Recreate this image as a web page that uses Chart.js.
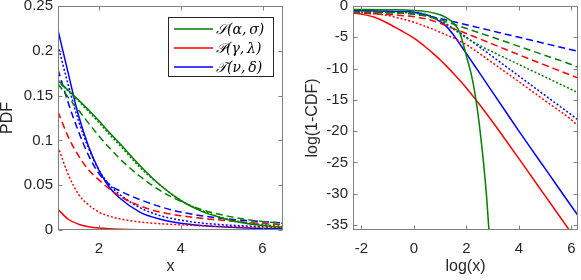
<!DOCTYPE html>
<html>
<head>
<meta charset="utf-8">
<script src="https://cdn.jsdelivr.net/npm/chart.js@4.4.1/dist/chart.umd.min.js"></script>
<style>
  html, body { margin:0; padding:0; background:#fff; }
  #wrap { position:relative; width:581px; height:280px; }
  canvas { position:absolute; top:0; }
  #pdfChart { left:0; }
  #tailChart { left:290px; }
</style>
</head>
<body>
<div id="wrap">
  <canvas id="pdfChart" width="290" height="280"></canvas>
  <canvas id="tailChart" width="291" height="280"></canvas>
</div>
<script>
// ---- left panel: PDF on 1..6.5 ----
const pdfX   = [1, 1.25, 1.5, 1.75, 2, 2.25, 2.5, 3, 3.5, 4, 4.5, 5, 5.5, 6, 6.5];
const pdfS1  = [0.167, 0.156, 0.145, 0.134, 0.122, 0.109, 0.097, 0.072, 0.050, 0.033, 0.021, 0.0135, 0.008, 0.005, 0.003];
const pdfS2  = [0.163, 0.148, 0.134, 0.119, 0.105, 0.092, 0.080, 0.060, 0.044, 0.032, 0.023, 0.017, 0.0125, 0.0095, 0.0075];
const pdfS3  = [0.166, 0.155, 0.144, 0.132, 0.120, 0.107, 0.095, 0.070, 0.050, 0.033, 0.022, 0.014, 0.009, 0.006, 0.004];
const pdfP1  = [0.023, 0.012, 0.0065, 0.0037, 0.0022, 0.0014, 0.0009, 0.0004, 0.0002, 0.0001, 0.00005, 0, 0, 0, 0];
const pdfP2  = [0.132, 0.104, 0.083, 0.067, 0.056, 0.046, 0.038, 0.027, 0.020, 0.016, 0.013, 0.011, 0.0088, 0.0072, 0.006];
const pdfP3  = [0.093, 0.062, 0.040, 0.028, 0.020, 0.0155, 0.0125, 0.009, 0.007, 0.0058, 0.0048, 0.004, 0.0035, 0.003, 0.0027];
const pdfT1  = [0.223, 0.175, 0.128, 0.093, 0.067, 0.048, 0.036, 0.020, 0.012, 0.0075, 0.005, 0.0035, 0.0025, 0.0018, 0.0014];
const pdfT2  = [0.179, 0.142, 0.110, 0.083, 0.063, 0.051, 0.044, 0.034, 0.026, 0.020, 0.016, 0.013, 0.011, 0.0093, 0.008];
const pdfT3  = [0.206, 0.162, 0.122, 0.091, 0.067, 0.051, 0.040, 0.025, 0.016, 0.011, 0.0078, 0.006, 0.0047, 0.0038, 0.0031];

// ---- right panel: log(1-CDF) vs log(x) ----
const tailX  = [-2.32, -2, -1.5, -1, -0.5, 0, 0.5, 0.75, 1, 1.25, 1.5, 2, 2.5, 3, 3.5, 4, 5, 6, 6.25];
const tailGX = [-2.32, -1, 0, 0.5, 1, 1.25, 1.5, 1.75, 2, 2.25, 2.5, 2.75, 2.9];
const tailS1 = [-0.55, -0.6, -0.7, -0.9, -1.4, -1.9, -2.7, -4.3, -8.0, -12.2, -19.2, -29.5, -38.5];
const tailS2 = [-0.9, -0.95, -1.0, -1.07, -1.15, -1.3, -1.65, -1.9, -2.2, -2.55, -2.9, -3.6, -4.3, -5.0, -5.72, -6.45, -7.9, -9.35, -9.8];
const tailS3 = [-0.9, -0.92, -0.95, -1.0, -1.05, -1.15, -1.45, -1.85, -2.35, -3.0, -3.7, -5.1, -6.3, -7.35, -8.35, -9.35, -11.35, -13.35, -13.85];
const tailP1 = [-1.1, -1.3, -1.8, -2.75, -3.9, -5.15, -6.75, -7.65, -8.6, -9.65, -10.75, -13.1, -15.75, -18.55, -21.45, -24.4, -30.35, -36.3, -37.8];
const tailP2 = [-1.1, -1.15, -1.25, -1.35, -1.5, -1.7, -2.1, -2.4, -2.75, -3.15, -3.6, -4.4, -5.25, -6.1, -6.95, -7.8, -9.45, -11.1, -11.5];
const tailP3 = [-1.0, -1.1, -1.25, -1.5, -2.0, -2.6, -3.35, -3.75, -4.2, -4.65, -5.1, -6.2, -7.6, -9.1, -10.6, -12.1, -15.15, -18.2, -19.2];
const tailT1 = [-0.75, -0.76, -0.78, -0.82, -0.88, -1.0, -1.45, -1.9, -2.5, -3.3, -4.6, -7.6, -10.7, -13.8, -16.9, -20.0, -26.0, -32.0, -33.5];
const tailT2 = [-0.9, -0.95, -1.0, -1.07, -1.15, -1.3, -1.6, -1.8, -2.0, -2.25, -2.5, -3.0, -3.5, -4.0, -4.5, -5.0, -6.0, -7.0, -7.25];
const tailT3 = [-0.8, -0.82, -0.85, -0.9, -0.95, -1.05, -1.4, -1.8, -2.3, -2.9, -3.6, -5.0, -6.55, -8.1, -9.65, -11.2, -14.3, -17.4, -18.2];

// ticks + labels
const pdfXTicks  = [2, 4, 6];
const pdfYTicks  = [0, 0.05, 0.1, 0.15, 0.2, 0.25];
const tailXTicks = [-2, 0, 2, 4, 6];
const tailYTicks = [0, -5, -10, -15, -20, -25, -30, -35];
const legendLabels = ["\u{1D4AE}(\u03B1,\u2009\u03C3)", "\u{1D4AB}(\u03B3,\u2009\u03BB)", "\u{1D4AF}(\u03BD,\u2009\u03B4)"];

const GREEN = "#008000", RED = "#ff0000", BLUE = "#0000ff";
const AX = "#262626";
const FONT = "'Liberation Sans', Arial, Helvetica, sans-serif";

const pts = (xs, ys) => xs.map((x, i) => ({x, y: ys[i]}));
function line(data, color, style){
  return {
    data, borderColor: color, borderWidth: 1.5, pointRadius: 0, fill: false,
    cubicInterpolationMode: "monotone",
    borderDash: style === "dash" ? [7, 4] : style === "dot" ? [2, 2] : []
  };
}

// MATLAB-ish box with inward ticks on all four sides
const matlabBox = {
  id: "matlabBox",
  afterDraw(chart){
    const {ctx, chartArea: a, scales: {x, y}} = chart;
    const L = Math.round(a.left) + 0.5, R = Math.round(a.right) - 0.5;
    const T = Math.round(a.top) + 0.5, B = Math.round(a.bottom) - 0.5;
    ctx.save();
    ctx.strokeStyle = "#808080"; ctx.lineWidth = 1;
    ctx.strokeRect(L, T, R - L, B - T);
    ctx.beginPath();
    x.ticks.forEach(t => {
      const p = Math.round(x.getPixelForValue(t.value)) + 0.5;
      ctx.moveTo(p, B); ctx.lineTo(p, B - 4);
      ctx.moveTo(p, T); ctx.lineTo(p, T + 4);
    });
    y.ticks.forEach(t => {
      const p = Math.round(y.getPixelForValue(t.value)) + 0.5;
      ctx.moveTo(L, p); ctx.lineTo(L + 4, p);
      ctx.moveTo(R, p); ctx.lineTo(R - 4, p);
    });
    ctx.stroke();
    ctx.restore();
  }
};

const legendBox = {
  id: "legendBox",
  afterDraw(chart){
    const ctx = chart.ctx;
    ctx.save();
    ctx.fillStyle = "#fff"; ctx.fillRect(168, 17, 105, 59);
    ctx.strokeStyle = AX; ctx.lineWidth = 1;
    ctx.strokeRect(168.5, 17.5, 105, 59);
    const cols = [GREEN, RED, BLUE], ys = [29, 48, 67];
    ctx.font = "italic 14px 'DejaVu Serif', serif";
    ctx.textBaseline = "middle";
    legendLabels.forEach((s, i) => {
      ctx.strokeStyle = cols[i]; ctx.lineWidth = 1.5;
      ctx.beginPath(); ctx.moveTo(174, ys[i]); ctx.lineTo(213, ys[i]); ctx.stroke();
      ctx.fillStyle = "#000"; ctx.fillText(s, 216, ys[i] + 1);
    });
    ctx.restore();
  }
};

const noPad = s => { s.paddingTop = 0; s.paddingBottom = 0; s.paddingLeft = 0; s.paddingRight = 0; };

function axes(xmin, xmax, ymin, ymax, xt, yt, xTitle, yTitle, yW, yTitlePad){
  return {
    x: {
      type: "linear", min: xmin, max: xmax,
      afterBuildTicks: s => { s.ticks = xt.map(v => ({value: v})); },
      afterFit: s => { s.height = 50; noPad(s); },
      grid: {display: false, drawTicks: false}, border: {display: false},
      ticks: {color: AX, font: {family: FONT, size: 15}, padding: 10, maxRotation: 0, callback: v => String(v)},
      title: {display: true, text: xTitle, color: AX, font: {family: FONT, size: 16, lineHeight: 1}, padding: {top: 0, bottom: 5}}
    },
    y: {
      type: "linear", min: ymin, max: ymax,
      afterBuildTicks: s => { s.ticks = yt.map(v => ({value: v})); },
      afterFit: s => { s.width = yW; noPad(s); },
      grid: {display: false, drawTicks: false}, border: {display: false},
      ticks: {color: AX, font: {family: FONT, size: 15}, padding: 5, callback: v => String(v)},
      title: {display: true, text: yTitle, color: AX, font: {family: FONT, size: 16, lineHeight: 1}, padding: {top: yTitlePad, bottom: 0}}
    }
  };
}

const common = {
  responsive: false, animation: false, devicePixelRatio: 1,
  plugins: {legend: {display: false}, tooltip: {enabled: false}}
};

new Chart(document.getElementById("pdfChart"), {
  type: "line",
  data: {datasets: [
    line(pts(pdfX, pdfS1), GREEN, "solid"), line(pts(pdfX, pdfS2), GREEN, "dash"), line(pts(pdfX, pdfS3), GREEN, "dot"),
    line(pts(pdfX, pdfP1), RED, "solid"),   line(pts(pdfX, pdfP2), RED, "dash"),   line(pts(pdfX, pdfP3), RED, "dot"),
    line(pts(pdfX, pdfT1), BLUE, "solid"),  line(pts(pdfX, pdfT2), BLUE, "dash"),  line(pts(pdfX, pdfT3), BLUE, "dot")
  ]},
  options: Object.assign({}, common, {
    layout: {padding: {top: 6, right: 7, left: 0, bottom: 0}},
    scales: axes(1, 6.5, 0, 0.25, pdfXTicks, pdfYTicks, "x", "PDF", 58, 0)
  }),
  plugins: [matlabBox, legendBox]
});

new Chart(document.getElementById("tailChart"), {
  type: "line",
  data: {datasets: [
    line(pts(tailGX, tailS1), GREEN, "solid"), line(pts(tailX, tailS2), GREEN, "dash"), line(pts(tailX, tailS3), GREEN, "dot"),
    line(pts(tailX, tailP1), RED, "solid"),    line(pts(tailX, tailP2), RED, "dash"),   line(pts(tailX, tailP3), RED, "dot"),
    line(pts(tailX, tailT1), BLUE, "solid"),   line(pts(tailX, tailT2), BLUE, "dash"),  line(pts(tailX, tailT3), BLUE, "dot")
  ]},
  options: Object.assign({}, common, {
    layout: {padding: {top: 6, right: 3, left: 0, bottom: 0}},
    scales: axes(-2.32, 6.25, -35.8, 0, tailXTicks, tailYTicks, "log(x)", "log(1-CDF)", 63, 15)
  }),
  plugins: [matlabBox]
});
</script>
</body>
</html>
